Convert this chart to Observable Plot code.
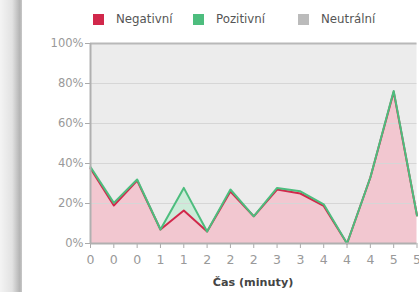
<!DOCTYPE html>
<html><head><meta charset="utf-8">
<script src="https://cdn.jsdelivr.net/npm/d3@7"></script>
<script src="https://cdn.jsdelivr.net/npm/@observablehq/plot@0.6"></script>
<style>
html,body{margin:0;padding:0;background:#fff;}
#wrap{position:relative;width:419px;height:292px;overflow:hidden;font-family:"DejaVu Sans",Verdana,sans-serif;}
#shade{position:absolute;left:0;top:0;width:22px;height:292px;background:linear-gradient(to right,#f4f4f4 0%,#e2e2e2 55%,#b4b4b4 90%,#c8c8c8 100%);}
#legend{position:absolute;top:10px;left:0;width:419px;height:18px;font-size:11.8px;color:#555;}
.item{position:absolute;top:0;display:flex;align-items:center;height:18px;}
.sw{width:11px;height:11px;margin-right:12px;}
#xtitle{position:absolute;left:0;width:506px;text-align:center;top:276px;font-size:11.2px;font-weight:bold;color:#444;}
#chart{position:absolute;left:0;top:0;}
</style></head>
<body><div id="wrap"><div id="chart"></div><div id="shade"></div><div id="legend"></div><div id="xtitle">Čas (minuty)</div></div>
<script>
const labels = ["0","0","0","1","1","2","2","2","3","3","4","4","4","5","5"];
const negative = [37.5, 19, 31.5, 7, 16.5, 6, 26, 13.6, 27, 25, 18.8, 0, 33, 75.8, 14];
const positive = [0.7, 1.3, 0.5, 0, 11.3, 0, 1, 0, 0.8, 1.1, 0.8, 0, 0, 0.5, 0];
const neutral  = [61.8, 79.7, 68, 93, 72.2, 94, 73, 86.4, 72.2, 73.9, 80.4, 100, 67, 23.7, 86];
const seriesNames = ["Negativní","Pozitivní","Neutrální"];
const lineColors = ["#d1284b","#4dbd7e","#bdbdbd"];
const fillColors = ["#f2c7d0","#cdebd9","#ececec"];

const rows = labels.map((l,i)=>({i, neg: negative[i], pos: negative[i]+positive[i], top: negative[i]+positive[i]+neutral[i]}));

const plot = Plot.plot({
  width: 419, height: 292,
  marginLeft: 90, marginRight: 2.5, marginTop: 43, marginBottom: 49,
  style: {fontFamily: "DejaVu Sans, Verdana, sans-serif", fontSize: "11.5px", color: "#999", background: "transparent"},
  x: {type: "linear", domain: [0, labels.length-1], ticks: d3.range(labels.length), tickFormat: i => labels[i], tickSize: 5, tickPadding: 7, label: null},
  y: {domain: [0, 100], ticks: [0,20,40,60,80,100], tickFormat: d => d + "%", tickSize: 5, tickPadding: 2, label: null},
  marks: [
    Plot.areaY(rows, {x: "i", y1: "pos", y2: "top", fill: fillColors[2]}),
    Plot.areaY(rows, {x: "i", y1: "neg", y2: "pos", fill: fillColors[1]}),
    Plot.areaY(rows, {x: "i", y1: 0, y2: "neg", fill: fillColors[0]}),
    Plot.ruleY([20,40,60,80], {stroke: "#d6d6d6", strokeWidth: 1}),
    Plot.ruleY([100], {stroke: "#b8b8b8", strokeWidth: 2}),
    Plot.lineY(rows, {x: "i", y: "neg", stroke: lineColors[0], strokeWidth: 2}),
    Plot.lineY(rows, {x: "i", y: "pos", stroke: lineColors[1], strokeWidth: 2}),
    Plot.axisY({tickSize: 5, tickPadding: 2, stroke: "#aaa", fill: "#999", tickFormat: d => d + "%", ticks: [0,20,40,60,80,100]}),
    Plot.axisX({tickSize: 5, tickPadding: 7, stroke: "#aaa", fill: "#999", ticks: d3.range(labels.length), tickFormat: i => labels[i], fontSize: 12.5}),
    Plot.ruleX([0], {stroke: "#b0b0b0", strokeWidth: 2}),
    Plot.ruleY([0], {stroke: "#b0b0b0", strokeWidth: 2})
  ]
});
document.getElementById("chart").appendChild(plot);

const lg = document.getElementById("legend");
const lx = [93, 193, 298];
seriesNames.forEach((n,k)=>{
  const d = document.createElement("div");
  d.className = "item"; d.style.left = lx[k] + "px";
  const s = document.createElement("div"); s.className = "sw"; s.style.background = k===2 ? "#bbbbbb" : lineColors[k];
  const t = document.createElement("span"); t.textContent = n;
  d.appendChild(s); d.appendChild(t); lg.appendChild(d);
});
</script></body></html>
